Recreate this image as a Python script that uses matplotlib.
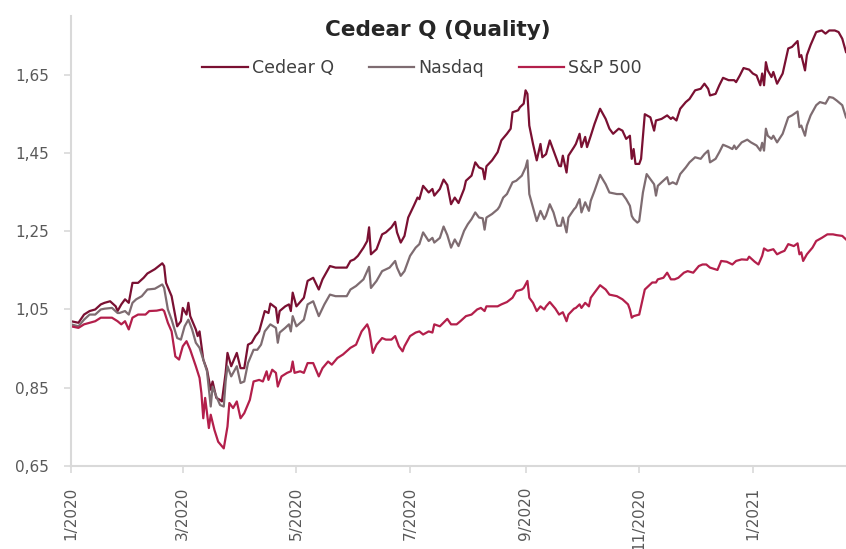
import numpy as np
import matplotlib
matplotlib.use("Agg")
import matplotlib.pyplot as plt

# ---- data (day offset from 2020-01-01, value) ----
start_date = np.datetime64("2020-01-01")

cedear_q = [(0,1.020),(4,1.016),(7,1.037),(10,1.046),(13,1.050),(16,1.063),(18,1.067),(21,1.071),(24,1.058),(25,1.046),(27,1.063),(29,1.076),(31,1.067),(33,1.118),(36,1.118),(39,1.131),(41,1.142),(45,1.153),(49,1.168),(50,1.161),(51,1.118),(54,1.084),(57,1.007),(59,1.020),(60,1.054),(62,1.037),(63,1.067),(64,1.033),(67,0.999),(68,0.982),(69,0.994),(71,0.922),(73,0.896),(75,0.845),(76,0.866),(78,0.824),(80,0.819),(81,0.815),(83,0.888),(84,0.939),(86,0.905),(89,0.939),(91,0.900),(93,0.900),(95,0.960),(97,0.965),(99,0.982),(101,0.994),(104,1.046),(106,1.041),(107,1.065),(110,1.054),(111,1.016),(112,1.046),(115,1.058),(117,1.063),(118,1.046),(119,1.093),(121,1.058),(125,1.080),(127,1.123),(130,1.131),(133,1.101),(135,1.127),(139,1.161),(142,1.157),(145,1.157),(148,1.157),(150,1.174),(152,1.178),(154,1.187),(157,1.208),(159,1.225),(160,1.260),(161,1.191),(164,1.204),(167,1.242),(169,1.247),(172,1.260),(174,1.274),(175,1.247),(177,1.221),(179,1.238),(181,1.285),(184,1.315),(186,1.336),(187,1.332),(189,1.366),(192,1.349),(194,1.358),(195,1.341),(198,1.358),(200,1.382),(202,1.368),(204,1.319),(206,1.336),(208,1.322),(211,1.358),(212,1.379),(215,1.392),(217,1.426),(219,1.413),(221,1.409),(222,1.383),(223,1.416),(226,1.431),(229,1.452),(231,1.482),(234,1.499),(236,1.512),(237,1.554),(240,1.559),(241,1.567),(243,1.576),(244,1.610),(245,1.601),(246,1.520),(248,1.473),(250,1.431),(252,1.473),(253,1.439),(255,1.447),(257,1.482),(260,1.443),(262,1.417),(263,1.416),(264,1.443),(266,1.400),(267,1.443),(270,1.465),(271,1.473),(273,1.499),(274,1.465),(276,1.491),(277,1.465),(279,1.494),(281,1.524),(284,1.563),(287,1.537),(289,1.512),(291,1.499),(294,1.512),(296,1.507),(298,1.486),(300,1.494),(301,1.435),(302,1.460),(303,1.422),(305,1.422),(306,1.435),(308,1.549),(311,1.541),(313,1.507),(314,1.533),(317,1.537),(320,1.546),(322,1.537),(323,1.541),(325,1.533),(327,1.563),(330,1.580),(332,1.588),(335,1.610),(338,1.614),(340,1.627),(342,1.614),(343,1.597),(346,1.601),(348,1.623),(350,1.642),(353,1.636),(356,1.636),(357,1.631),(359,1.648),(361,1.667),(364,1.663),(366,1.653),(368,1.648),(370,1.623),(371,1.653),(372,1.623),(373,1.682),(374,1.661),(376,1.644),(377,1.657),(379,1.627),(382,1.653),(385,1.717),(387,1.721),(390,1.736),(391,1.695),(392,1.700),(394,1.661),(395,1.700),(397,1.726),(400,1.759),(403,1.763),(405,1.755),(407,1.763),(410,1.763),(412,1.759),(414,1.742),(416,1.708)]

nasdaq = [(0,1.012),(4,1.007),(7,1.024),(10,1.037),(13,1.037),(16,1.050),(18,1.052),(22,1.054),(25,1.041),(26,1.041),(29,1.046),(31,1.037),(33,1.067),(35,1.076),(38,1.084),(41,1.101),(45,1.103),(49,1.114),(50,1.105),(52,1.050),(54,1.024),(57,0.977),(59,0.973),(61,1.007),(63,1.024),(65,0.999),(67,0.965),(69,0.952),(71,0.922),(73,0.892),(75,0.802),(76,0.853),(78,0.828),(80,0.806),(82,0.802),(83,0.866),(84,0.905),(86,0.879),(89,0.905),(91,0.862),(93,0.866),(95,0.913),(98,0.947),(100,0.947),(102,0.960),(104,0.994),(107,1.012),(110,1.003),(111,0.965),(112,0.991),(115,1.003),(117,1.012),(118,0.994),(119,1.033),(121,1.007),(125,1.024),(127,1.063),(130,1.071),(133,1.033),(136,1.063),(139,1.088),(142,1.084),(145,1.084),(148,1.084),(150,1.101),(153,1.110),(157,1.127),(160,1.159),(161,1.105),(164,1.123),(167,1.148),(171,1.157),(174,1.174),(175,1.157),(177,1.136),(179,1.148),(182,1.187),(185,1.208),(187,1.217),(189,1.247),(192,1.225),(194,1.233),(195,1.221),(198,1.233),(200,1.262),(202,1.240),(204,1.208),(206,1.229),(208,1.212),(211,1.251),(213,1.268),(215,1.281),(217,1.298),(219,1.285),(221,1.283),(222,1.254),(223,1.285),(226,1.294),(229,1.306),(230,1.313),(232,1.336),(234,1.345),(237,1.375),(239,1.379),(242,1.392),(244,1.413),(245,1.431),(246,1.345),(248,1.311),(250,1.276),(252,1.302),(254,1.281),(255,1.290),(257,1.319),(259,1.298),(261,1.264),(263,1.264),(264,1.285),(266,1.247),(267,1.285),(270,1.306),(271,1.311),(273,1.332),(274,1.298),(276,1.324),(278,1.302),(279,1.328),(281,1.353),(284,1.394),(287,1.370),(289,1.349),(293,1.345),(296,1.345),(298,1.332),(300,1.315),(301,1.289),(302,1.281),(304,1.272),(305,1.276),(307,1.349),(309,1.396),(311,1.383),(313,1.370),(314,1.341),(315,1.366),(317,1.375),(320,1.388),(321,1.370),(323,1.375),(325,1.370),(327,1.396),(330,1.413),(332,1.426),(335,1.439),(338,1.435),(340,1.447),(342,1.456),(343,1.426),(346,1.435),(348,1.452),(350,1.471),(353,1.465),(355,1.460),(356,1.469),(357,1.460),(360,1.477),(363,1.484),(365,1.477),(368,1.469),(370,1.456),(371,1.476),(372,1.456),(373,1.512),(374,1.494),(376,1.486),(377,1.494),(379,1.477),(382,1.499),(385,1.541),(387,1.546),(390,1.556),(391,1.516),(392,1.520),(394,1.494),(395,1.520),(397,1.546),(400,1.572),(402,1.580),(405,1.576),(407,1.593),(409,1.591),(411,1.584),(414,1.572),(416,1.541)]

sp500 = [(0,1.007),(4,1.003),(7,1.012),(10,1.016),(13,1.020),(16,1.029),(19,1.029),(22,1.029),(25,1.020),(27,1.012),(29,1.020),(31,0.999),(33,1.029),(36,1.037),(40,1.037),(42,1.046),(46,1.047),(49,1.050),(50,1.046),(52,1.016),(54,0.994),(56,0.930),(58,0.922),(60,0.956),(62,0.969),(64,0.947),(67,0.905),(69,0.875),(70,0.836),(71,0.772),(72,0.824),(74,0.747),(75,0.781),(77,0.742),(79,0.712),(82,0.695),(84,0.751),(85,0.811),(87,0.798),(89,0.815),(91,0.772),(93,0.785),(96,0.819),(98,0.866),(101,0.870),(103,0.866),(105,0.892),(106,0.870),(108,0.896),(110,0.888),(111,0.853),(113,0.879),(116,0.888),(118,0.892),(119,0.917),(120,0.888),(123,0.892),(125,0.888),(127,0.913),(130,0.913),(133,0.879),(135,0.900),(138,0.917),(140,0.909),(143,0.926),(146,0.935),(150,0.952),(153,0.960),(156,0.994),(159,1.012),(160,0.999),(162,0.939),(164,0.960),(167,0.977),(169,0.973),(172,0.973),(174,0.982),(176,0.956),(178,0.943),(179,0.956),(182,0.982),(185,0.991),(187,0.994),(189,0.986),(192,0.994),(194,0.991),(195,1.012),(198,1.007),(202,1.026),(204,1.012),(207,1.012),(209,1.020),(212,1.033),(215,1.037),(218,1.050),(220,1.054),(222,1.046),(223,1.058),(227,1.058),(229,1.058),(231,1.063),(234,1.069),(237,1.080),(239,1.097),(242,1.101),(243,1.105),(245,1.123),(246,1.080),(248,1.067),(250,1.046),(252,1.058),(254,1.050),(255,1.058),(257,1.069),(260,1.052),(262,1.037),(264,1.043),(266,1.020),(267,1.037),(270,1.052),(271,1.054),(273,1.063),(274,1.054),(276,1.067),(278,1.058),(279,1.080),(281,1.093),(284,1.112),(287,1.101),(289,1.088),(293,1.084),(296,1.076),(299,1.063),(300,1.050),(301,1.029),(302,1.033),(305,1.037),(306,1.058),(308,1.101),(310,1.110),(312,1.119),(314,1.119),(315,1.127),(318,1.131),(320,1.144),(322,1.127),(324,1.127),(326,1.131),(329,1.144),(331,1.148),(334,1.144),(337,1.161),(339,1.165),(341,1.165),(343,1.157),(347,1.151),(349,1.174),(352,1.172),(355,1.165),(357,1.174),(360,1.178),(363,1.177),(364,1.185),(367,1.172),(369,1.165),(371,1.187),(372,1.206),(374,1.200),(377,1.204),(379,1.191),(381,1.196),(383,1.200),(385,1.217),(388,1.212),(390,1.219),(391,1.191),(392,1.196),(393,1.174),(395,1.191),(398,1.208),(400,1.225),(403,1.233),(406,1.242),(409,1.242),(411,1.240),(414,1.238),(416,1.229)]

series_names = ["Cedear Q", "Nasdaq", "S&P 500"]
series_colors = ["#7a1032", "#7e6c71", "#b31f4b"]

y_ticks = [0.65, 0.85, 1.05, 1.25, 1.45, 1.65]
x_tick_dates = ["2020-01-01", "2020-03-01", "2020-05-01", "2020-07-01",
                "2020-09-01", "2020-11-01", "2021-01-01"]
x_tick_labels = ["1/2020", "3/2020", "5/2020", "7/2020", "9/2020", "11/2020", "1/2021"]
title = "Cedear Q (Quality)"

# ---- figure ----
W, H = 846, 549
fig = plt.figure(figsize=(W / 100, H / 100), dpi=100)
ax = fig.add_axes([71 / W, (H - 466) / H, (W - 71) / W, 450 / H])

for data, name, col in zip([cedear_q, nasdaq, sp500], series_names, series_colors):
    days = np.array([d for d, _ in data])
    vals = np.array([v for _, v in data])
    dates = start_date + days.astype("timedelta64[D]")
    ax.plot(dates, vals, color=col, lw=1.6, label=name, solid_joinstyle="round")

ax.set_ylim(0.65, 1.80)
ax.set_xlim(start_date, start_date + np.timedelta64(416, "D"))

ax.set_yticks(y_ticks)
ax.set_yticklabels([f"{v:.2f}".replace(".", ",") for v in y_ticks])
ax.set_xticks([np.datetime64(d) for d in x_tick_dates])
ax.set_xticklabels(x_tick_labels, rotation=90, va="top", ha="center")

grey = "#d9d9d9"
for s in ["top", "right"]:
    ax.spines[s].set_visible(False)
for s in ["left", "bottom"]:
    ax.spines[s].set_color(grey)
    ax.spines[s].set_linewidth(1.5)
ax.tick_params(axis="y", length=5, width=1.2, color=grey, labelsize=11,
               labelcolor="#595959", pad=11)
ax.tick_params(axis="x", length=5, width=1.2, color=grey, labelsize=11,
               labelcolor="#595959", pad=10)

leg = ax.legend(loc="center", bbox_to_anchor=(0.453, 0.885), ncol=3, frameon=False,
                fontsize=12.5, handlelength=2.6, handletextpad=0.25, columnspacing=2.0)
for t in leg.get_texts():
    t.set_color("#404040")

fig.text(437.5 / W, 1 - 30 / H, title, ha="center", va="center",
         fontsize=15.5, fontweight="bold", color="#262626")

fig.savefig("out.png", dpi=100)
